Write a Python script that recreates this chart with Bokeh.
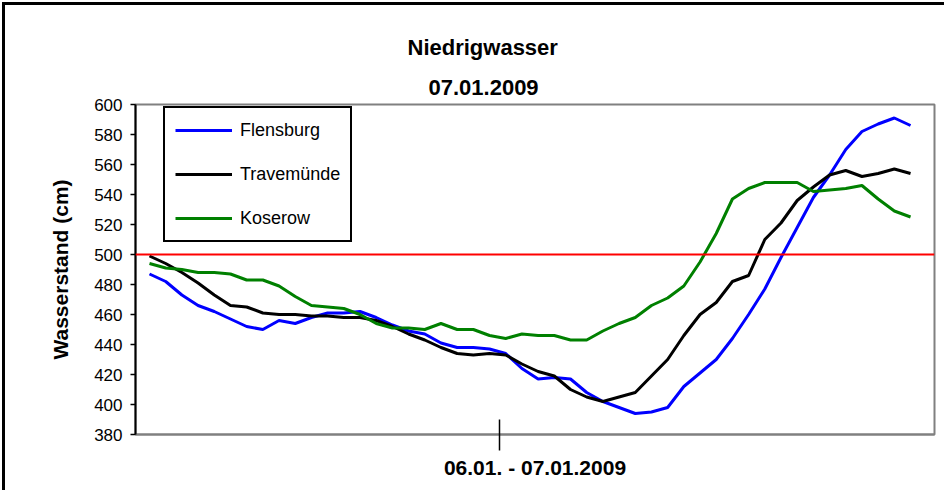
from bokeh.plotting import figure
from bokeh.models import Range1d, FixedTicker, Span, Title, LinearAxis
from bokeh.embed import file_html
from bokeh.resources import INLINE

# ---- data (hourly values, 06.01. - 07.01.2009) ----
hours = list(range(48))
flensburg = [487, 482, 473, 466, 462, 457, 452, 450, 456, 454, 458, 461, 461, 462, 458, 453,
             449, 447, 441, 438, 438, 437, 434, 424, 417, 418, 417, 408, 402, 398, 394, 395,
             398, 412, 421, 430, 444, 460, 477, 498, 518, 538, 553, 570, 582, 587, 591, 586]
travemuende = [499, 494, 488, 481, 473, 466, 465, 461, 460, 460, 459, 459, 458, 458, 456, 452,
               447, 443, 438, 434, 433, 434, 433, 427, 422, 419, 410, 405, 402, 405, 408, 419,
               430, 446, 460, 468, 482, 486, 510, 521, 536, 545, 553, 556, 552, 554, 557, 554]
koserow = [494, 491, 490, 488, 488, 487, 483, 483, 479, 472, 466, 465, 464, 460, 454, 451,
           451, 450, 454, 450, 450, 446, 444, 447, 446, 446, 443, 443, 449, 454, 458, 466,
           471, 479, 495, 514, 537, 544, 548, 548, 548, 542, 543, 544, 546, 537, 529, 525]
series_names = ["Flensburg", "Travemünde", "Koserow"]
series_colors = ["#0000ff", "#000000", "#008000"]
y_ticks = [380, 400, 420, 440, 460, 480, 500, 520, 540, 560, 580, 600]
threshold = 500
title_lines = ["Niedrigwasser", "07.01.2009"]
x_label = "06.01. - 07.01.2009"
y_label = "Wasserstand (cm)"
day_tick = 21.6

FONT = "Liberation Sans"

p = figure(width=944, height=490, output_backend="svg", toolbar_location=None, title=None,
           x_range=Range1d(-0.865, 48.48), y_range=Range1d(380, 600),
           min_border_left=135, min_border_right=10, min_border_top=104, min_border_bottom=56,
           x_axis_type=None, y_axis_type=None,
           styles={"background-color": "white",
                   "box-shadow": "inset 2px 2px 0 0 white, inset 5px 5px 0 0 black"})
p.background_fill_color = "white"
p.border_fill_color = "white"
p.border_fill_alpha = 0
p.outline_line_color = "#808080"
p.outline_line_width = 2

# y axis
yax = LinearAxis(ticker=FixedTicker(ticks=y_ticks))
yax.axis_line_color = "black"
yax.axis_line_width = 2
yax.major_tick_line_color = "black"
yax.major_tick_line_width = 1.5
yax.major_tick_in = 0
yax.major_tick_out = 5
yax.minor_tick_line_color = None
yax.major_label_text_font = FONT
yax.major_label_text_font_size = "17px"
yax.major_label_text_color = "black"
yax.major_label_standoff = 8
yax.axis_label = y_label
yax.axis_label_text_font = FONT
yax.axis_label_text_font_style = "bold"
yax.axis_label_text_font_size = "21px"
yax.axis_label_text_color = "black"
yax.axis_label_standoff = 19
p.add_layout(yax, "left")

# x axis
xax = LinearAxis(ticker=FixedTicker(ticks=[day_tick]))
xax.major_label_overrides = {day_tick: ""}
xax.axis_line_color = "#808080"
xax.axis_line_width = 2
xax.major_tick_line_color = "black"
xax.major_tick_line_width = 1.5
xax.major_tick_in = 15
xax.major_tick_out = 16
xax.minor_tick_line_color = None
xax.major_label_standoff = 0
xax.major_label_text_font_size = "10px"
xax.axis_label = x_label
xax.axis_label_text_font = FONT
xax.axis_label_text_font_style = "bold"
xax.axis_label_text_font_size = "21px"
xax.axis_label_text_color = "black"
xax.axis_label_standoff = 5
p.add_layout(xax, "below")

# grid
p.ygrid.ticker = FixedTicker(ticks=y_ticks)
p.ygrid.grid_line_color = "#808080"
p.ygrid.grid_line_dash = "1 1"
p.ygrid.grid_line_width = 1
p.xgrid.visible = False

# threshold
p.add_layout(Span(location=threshold, dimension="width", line_color="#ff0000", line_width=2))

for name, vals, col in zip(series_names, [flensburg, travemuende, koserow], series_colors):
    p.line(hours, vals, line_color=col, line_width=3, legend_label=name)

lg = p.legend[0]
lg.location = (28, 192)
lg.border_line_color = "black"
lg.border_line_alpha = 1
lg.border_line_width = 2
lg.background_fill_color = "white"
lg.background_fill_alpha = 1
lg.label_text_font = FONT
lg.label_text_font_size = "18px"
lg.label_text_color = "black"
lg.glyph_width = 57
lg.glyph_height = 24
lg.label_height = 24
lg.spacing = 20
lg.padding = 10
lg.margin = 0
lg.label_standoff = 8

# titles (first added sits nearest the plot frame)
p.add_layout(Title(text=title_lines[1], align="left", offset=293, vertical_align="middle",
                   standoff=18, text_font=FONT, text_font_style="bold", text_font_size="22px",
                   text_color="black"), "above")
p.add_layout(Title(text=title_lines[0], align="left", offset=272, vertical_align="middle",
                   standoff=18, text_font=FONT, text_font_style="bold", text_font_size="22px",
                   text_color="black"), "above")

open("out.html", "w").write(file_html(p, INLINE))
